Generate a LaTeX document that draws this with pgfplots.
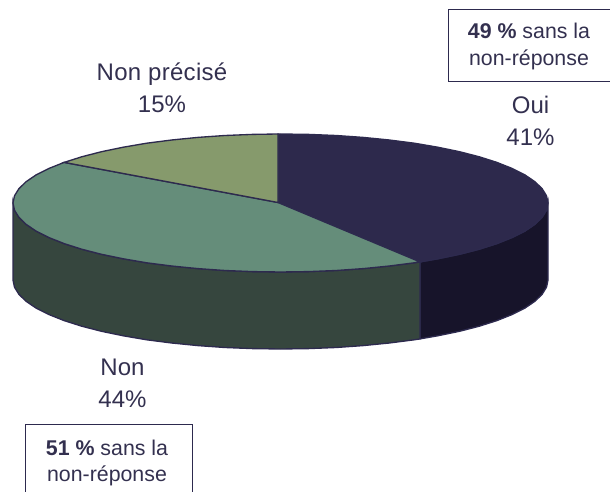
\documentclass[border=0pt]{standalone}
\usepackage{fontspec}
\setmainfont{Liberation Sans}
\usepackage{pgfplots}
\pgfplotsset{compat=1.18}
\definecolor{edge}{HTML}{2D2A4E}
\definecolor{txt}{HTML}{33304F}
\definecolor{ouitop}{HTML}{2D294C}
\definecolor{ouiside}{HTML}{17142A}
\definecolor{nontop}{HTML}{658D7A}
\definecolor{nonside}{HTML}{36463E}
\definecolor{nptop}{HTML}{869A6C}
\newcommand{\lab}{\fontsize{18}{24}\selectfont\color{txt}}
\newcommand{\boxt}{\fontsize{16}{20.2}\selectfont\color{txt}}
\begin{document}
\begin{tikzpicture}
\path[use as bounding box] (0,0) rectangle (457.5pt,369pt);
\begin{axis}[
  at={(0,0)},anchor=south west,
  scale only axis,width=457.5pt,height=369pt,
  xmin=0,xmax=610,ymin=0,ymax=492,y dir=reverse,
  hide axis,clip=false]
% side of Oui
\addplot[fill=ouiside,draw=edge,line width=1pt] coordinates {
(548,203)(546.5,210.2)(542.1,217.3)(534.9,224.3)(524.9,231.1)(512.2,237.5)(496.9,243.6)(479.3,249.2)(459.5,254.3)(437.7,258.8)(420,261.9)
(420,338.9)(437.7,335.8)(459.5,331.3)(479.3,326.2)(496.9,320.6)(512.2,314.5)(524.9,308.1)(534.9,301.3)(542.1,294.3)(546.5,287.2)(548,280)
} -- cycle;
% side of Non
\addplot[fill=nonside,draw=edge,line width=1pt] coordinates {
(420,261.9)(414.3,262.8)(389.3,266.0)(363.2,268.6)(336.1,270.5)(308.5,271.6)(280.5,272)(252.5,271.6)(224.9,270.5)(197.8,268.6)(171.7,266.0)(146.7,262.8)(123.3,258.8)(101.5,254.3)(81.7,249.2)(64.1,243.6)(48.8,237.5)(36.1,231.1)(26.1,224.3)(18.9,217.3)(14.5,210.2)(13,203)
(13,280)(14.5,287.2)(18.9,294.3)(26.1,301.3)(36.1,308.1)(48.8,314.5)(64.1,320.6)(81.7,326.2)(101.5,331.3)(123.3,335.8)(146.7,339.8)(171.7,343.0)(197.8,345.6)(224.9,347.5)(252.5,348.6)(280.5,349)(308.5,348.6)(336.1,347.5)(363.2,345.6)(389.3,343.0)(414.3,339.8)(420,338.9)
} -- cycle;
% top of Oui
\addplot[fill=ouitop,draw=edge,line width=1pt] coordinates {
(278,202.5)(278,134)(280.5,134)(308.5,134.4)(336.1,135.5)(363.2,137.4)(389.3,140.0)(414.3,143.2)(437.7,147.2)(459.5,151.7)(479.3,156.8)(496.9,162.4)(512.2,168.5)(524.9,174.9)(534.9,181.7)(542.1,188.7)(546.5,195.8)(548,203)(546.5,210.2)(542.1,217.3)(534.9,224.3)(524.9,231.1)(512.2,237.5)(496.9,243.6)(479.3,249.2)(459.5,254.3)(437.7,258.8)(420,261.9)
} -- cycle;
% top of Non
\addplot[fill=nontop,draw=edge,line width=1pt] coordinates {
(278,202.5)(420,261.9)(414.3,262.8)(389.3,266.0)(363.2,268.6)(336.1,270.5)(308.5,271.6)(280.5,272)(252.5,271.6)(224.9,270.5)(197.8,268.6)(171.7,266.0)(146.7,262.8)(123.3,258.8)(101.5,254.3)(81.7,249.2)(64.1,243.6)(48.8,237.5)(36.1,231.1)(26.1,224.3)(18.9,217.3)(14.5,210.2)(13,203)(14.5,195.8)(18.9,188.7)(26.1,181.7)(36.1,174.9)(48.8,168.5)(64.1,162.4)
} -- cycle;
% top of Non precise
\addplot[fill=nptop,draw=edge,line width=1pt] coordinates {
(278,202.5)(64.1,162.4)(81.7,156.8)(101.5,151.7)(123.3,147.2)(146.7,143.2)(171.7,140.0)(197.8,137.4)(224.9,135.5)(252.5,134.4)(278,134)
} -- cycle;
\node[align=center,inner sep=0pt,font=\lab] at (axis cs:162,88) {{\addfontfeature{LetterSpace=1.2}Non précisé}\\15\%};
\node[align=center,inner sep=0pt,font=\lab] at (axis cs:530.5,120.5) {Oui\\41\%};
\node[align=center,inner sep=0pt,font=\lab] at (axis cs:122.5,383) {Non\\44\%};
\draw[edge,line width=0.6pt] (axis cs:610,9.5) -- (axis cs:448.5,9.5) -- (axis cs:448.5,81) -- (axis cs:610,81);
\draw[edge,line width=0.6pt] (axis cs:25,492) -- (axis cs:25,424) -- (axis cs:192,424) -- (axis cs:192,492);
\node[align=center,inner sep=0pt,font=\boxt] at (axis cs:529,46.5) {\textbf{49 \%} sans la\\non-réponse};
\node[align=center,inner sep=0pt,font=\boxt] at (axis cs:107,463) {\textbf{51 \%} sans la\\non-réponse};
\end{axis}
\end{tikzpicture}
\end{document}
